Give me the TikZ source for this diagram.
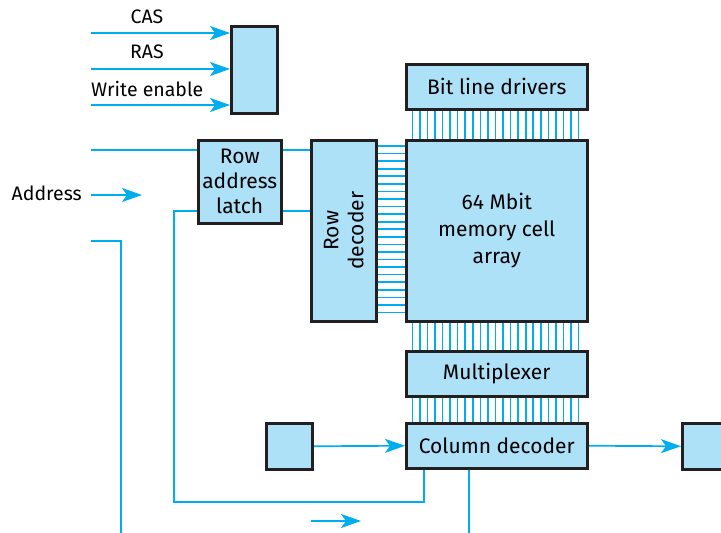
\documentclass[tikz,border=0pt]{standalone}
\usepackage{fontspec}
\setmainfont{Fira Sans}
\usetikzlibrary{arrows.meta}
\definecolor{wirecol}{HTML}{00AEEF}
\definecolor{boxfill}{HTML}{ADE1F8}
\definecolor{boxline}{HTML}{231F20}
\pgfdeclarelayer{bg}
\pgfsetlayers{bg,main}
\begin{document}
\begin{tikzpicture}[x=1pt,y=-1pt,
 blk/.style={draw=boxline, line width=2.5pt, fill=boxfill, inner sep=0pt, anchor=north west,
   font=\fontsize{21}{25}\selectfont, align=center},
 wire/.style={draw=wirecol, line width=1.7pt},
 arr/.style={wire, -{Stealth[length=20pt,width=14pt,inset=5pt]}},
 lbl/.style={font=\fontsize{19.5}{22}\selectfont, inner sep=0pt}]
\useasboundingbox (0,0) rectangle (721,533);

% blocks
\node[blk, minimum width=46pt, minimum height=87pt] (ctrl) at (230,25) {};
\node[blk, minimum width=83pt, minimum height=83pt] (latch) at (197,139) {Row\\address\\latch};
\node[blk, minimum width=65pt, minimum height=181pt] (rowdec) at (310,139) {};
\node[font=\fontsize{21}{25}\selectfont, align=center, rotate=90, inner sep=0pt] at (rowdec.center) {Row\\decoder};
\node[blk, minimum width=181pt, minimum height=45pt] (drivers) at (405,63) {Bit line drivers};
\node[blk, minimum width=181pt, minimum height=181pt, font=\fontsize{21}{27}\selectfont] (array) at (405,139) {64 Mbit\\memory cell\\array};
\node[blk, minimum width=181pt, minimum height=45pt] (mux) at (405,350) {Multiplexer};
\node[blk, minimum width=181pt, minimum height=45pt] (coldec) at (405,422) {Column decoder};
\node[blk, minimum width=46pt, minimum height=46pt] (inbox) at (265,422) {};
\node[blk, minimum width=46pt, minimum height=46pt] (outbox) at (681,422) {};

% labels
\node[lbl] (cas) at (147,17) {CAS};
\node[lbl] (ras) at (147,52) {RAS};
\node[lbl, anchor=west] (we) at (91,89) {Write enable};
\node[lbl, anchor=east] (addr) at (82,193) {Address};

% free coordinates
\coordinate (casS) at (91,33);
\coordinate (rasS) at (91,69);
\coordinate (weS) at (91,105);
\coordinate (topS) at (91,150);
\coordinate (addrS) at (91,195);
\coordinate (addrE) at (142,195);
\coordinate (lowS) at (91,241);
\coordinate (lowC) at (121,241);
\coordinate (lowE) at (121,533);
\coordinate (lpA) at (174,211);
\coordinate (lpB) at (174,502);
\coordinate (lpC) at (424,502);
\coordinate (colE) at (469,533);
\coordinate (botS) at (311,521);
\coordinate (botE) at (361,521);

\begin{pgfonlayer}{bg}
\draw[arr] (casS) -- (casS -| ctrl.west);
\draw[arr] (rasS) -- (rasS -| ctrl.west);
\draw[arr] (weS) -- (weS -| ctrl.west);
\draw[wire] (topS) -- (topS -| latch.west);
\draw[wire] (topS -| latch.east) -- (topS -| rowdec.west);
\draw[wire] (lpA -| latch.east) -- (lpA -| rowdec.west);
\draw[arr] (addrS) -- (addrE);
\draw[wire] (lowS) -- (lowC) -- (lowE);
\draw[wire] (lpA -| latch.west) -- (lpA) -- (lpB) -- (lpC) -- (lpC |- coldec.south);
\draw[wire] (colE |- coldec.south) -- (colE);
\draw[arr] (inbox.east) -- (coldec.west);
\draw[arr] (coldec.east) -- (outbox.west);
\draw[arr] (botS) -- (botE);
\foreach \i in {0,...,22}{
  \draw[wire, line width=1.6pt] ([xshift={7.3pt+\i*7.56pt}]drivers.south west) -- ([xshift={7.3pt+\i*7.56pt}]array.north west);
  \draw[wire, line width=1.6pt] ([xshift={7.3pt+\i*7.56pt}]array.south west) -- ([xshift={7.3pt+\i*7.56pt}]mux.north west);
  \draw[wire, line width=1.6pt] ([xshift={7.3pt+\i*7.56pt}]mux.south west) -- ([xshift={7.3pt+\i*7.56pt}]coldec.north west);
  \draw[wire, line width=1.6pt] ([yshift={-7pt-\i*7.57pt}]rowdec.north east) -- ([yshift={-7pt-\i*7.57pt}]array.north west);
}
\end{pgfonlayer}
\end{tikzpicture}
\end{document}
